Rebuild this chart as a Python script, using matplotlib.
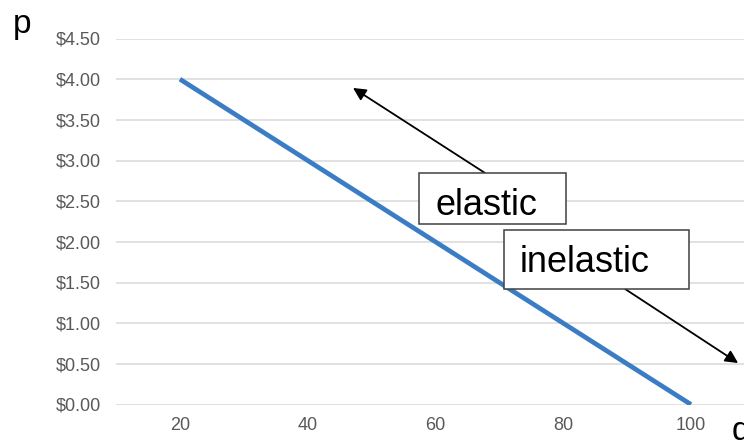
import matplotlib
matplotlib.use('Agg')
import matplotlib.pyplot as plt
from matplotlib.patches import Rectangle

# data
q = [20, 40, 60, 80, 100]
p = [4.0, 3.0, 2.0, 1.0, 0.0]
y_ticks = [0.0, 0.5, 1.0, 1.5, 2.0, 2.5, 3.0, 3.5, 4.0, 4.5]
y_labels = ['$%.2f' % v for v in y_ticks]

plt.rcParams['font.family'] = ['Liberation Sans', 'DejaVu Sans']

fig = plt.figure(figsize=(7.44, 4.45), dpi=100)
ax = fig.add_axes([116 / 744, 40.5 / 445, 628 / 744, 366 / 445])

ax.plot(q, p, color='#3b7dc4', linewidth=3.4, solid_capstyle='butt', zorder=3)

ax.set_xlim(10, 108.3)
ax.set_ylim(0, 4.5)
ax.set_xticks(q)
ax.set_xticklabels([str(v) for v in q])
ax.set_yticks(y_ticks)
ax.set_yticklabels(y_labels)
ax.tick_params(length=0, labelsize=13, labelcolor='#595959')
ax.tick_params(axis='y', pad=11)
ax.tick_params(axis='x', pad=9)
ax.grid(axis='y', color='#d9d9d9', linewidth=1.1)
ax.set_axisbelow(True)
for s in ax.spines.values():
    s.set_visible(False)

# text boxes
ax.add_patch(Rectangle((57.44, 2.219), 23.0, 0.627, facecolor='white',
                       edgecolor='#404040', linewidth=1.1, zorder=5))
ax.text(59.94, 2.33, 'elastic', fontsize=26, va='baseline', zorder=6)
ax.add_patch(Rectangle((70.74, 1.42), 28.97, 0.726, facecolor='white',
                       edgecolor='#404040', linewidth=1.1, zorder=5))
ax.text(73.25, 1.633, 'inelastic', fontsize=26, va='baseline', zorder=6)

# arrows
arrow = dict(arrowstyle='-|>', color='black', lw=1.3, mutation_scale=19,
             shrinkA=0, shrinkB=0)
ax.annotate('', xy=(47.1, 3.892), xytext=(67.77, 2.846),
            arrowprops=arrow, annotation_clip=False, zorder=4)
ax.annotate('', xy=(107.38, 0.51), xytext=(89.69, 1.42),
            arrowprops=arrow, annotation_clip=False, zorder=4)

fig.text(13 / 744, 1 - 33 / 445, 'p', fontsize=24, va='baseline')
fig.text(732 / 744, 1 - 440 / 445, 'q', fontsize=24, va='baseline')

plt.savefig('out.png')
